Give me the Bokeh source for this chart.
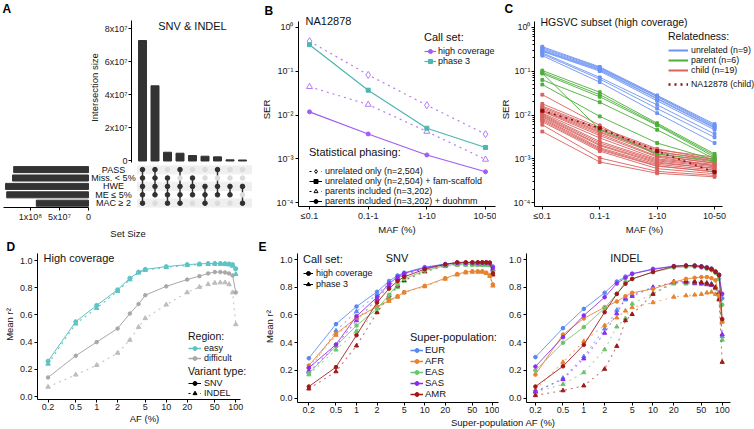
from bokeh.plotting import figure
from bokeh.models import Range1d, FixedTicker, LinearAxis, Legend, LegendItem, Label, Div, Title
from bokeh.layouts import row, column
from bokeh.embed import file_html
from bokeh.resources import INLINE
from bokeh.core.properties import value

FONT = "Liberation Sans"
NAN = float("nan")

# ================= DATA =================
# Panel A (UpSet)
set_names = ["PASS", "Miss. < 5%", "HWE", "ME ≤ 5%", "MAC ≥ 2"]
set_sizes = [1.29e8, 1.31e8, 1.43e8, 1.41e8, 0.90e8]
intersection_sizes = [7.29e7, 4.55e7, 0.53e7, 0.47e7, 0.33e7, 0.29e7, 0.25e7, 0.07e7, 0.06e7]
intersection_sets = [
    ["PASS", "Miss. < 5%", "HWE", "ME ≤ 5%", "MAC ≥ 2"],
    ["PASS", "Miss. < 5%", "HWE", "ME ≤ 5%"],
    ["Miss. < 5%", "HWE", "ME ≤ 5%", "MAC ≥ 2"],
    ["PASS", "HWE", "ME ≤ 5%", "MAC ≥ 2"],
    ["Miss. < 5%", "HWE", "ME ≤ 5%"],
    ["HWE", "ME ≤ 5%", "MAC ≥ 2"],
    ["PASS", "HWE", "ME ≤ 5%"],
    ["HWE", "ME ≤ 5%"],
    ["HWE", "MAC ≥ 2"],
]
inter_ticks = [0, 2e7, 4e7, 6e7, 8e7]
inter_tick_labels = ["0", "2x10⁷", "4x10⁷", "6x10⁷", "8x10⁷"]
size_ticks = [0, 5e7, 1e8]
size_tick_labels = ["0", "5x10⁷", "1x10⁸"]

# Panels B, C
maf_bins = ["≤0.1", "0.1-1", "1-10", "10-50"]
ser_ticks = [1e-4, 1e-3, 1e-2, 1e-1, 1.0]
ser_tick_labels = ["10⁻⁴", "10⁻³", "10⁻²", "10⁻¹", "10⁰"]
B_hc_unrelated = [0.48, 0.082, 0.0167, 0.00366]
B_p3_famscaffold = [0.40, 0.0367, 0.0050, 0.00182]
B_hc_parents = [0.044, 0.0173, 0.0042, 0.00097]
B_hc_duohmm = [0.0118, 0.0037, 0.00123, 0.00051]

C_unrelated = [
    [0.36, 0.125, 0.028, 0.0062], [0.34, 0.12, 0.027, 0.0058], [0.32, 0.115, 0.026, 0.0055],
    [0.30, 0.11, 0.024, 0.0052], [0.29, 0.105, 0.023, 0.0050], [0.28, 0.10, 0.021, 0.0046],
    [0.26, 0.072, 0.017, 0.0037], [0.245, 0.066, 0.014, 0.0031], [0.225, 0.056, 0.011, 0.0023],
]
C_parent = [
    [0.103, 0.033, 0.0065, 0.0013], [0.094, 0.029, 0.0061, 0.0012], [0.088, 0.026, 0.0058, 0.0011],
    [0.063, 0.0195, 0.0046, 0.0010], [0.0495, 0.0093, 0.0023, 0.00095], [0.090, 0.0047, 0.0013, 0.0009],
]
C_child = [
    [0.029, 0.0058, 0.0012, 0.0008], [0.018, 0.0052, 0.0017, 0.00095], [0.016, 0.0048, 0.0016, 0.0011],
    [0.015, 0.0045, 0.0015, 0.0009], [0.014, 0.0042, 0.0014, 0.0010], [0.013, 0.0040, 0.0013, 0.00085],
    [0.0125, 0.0037, 0.00115, 0.0008], [0.012, 0.0034, 0.0011, 0.0007], [0.011, 0.0030, 0.0010, 0.00075],
    [0.0105, 0.0025, 0.00095, 0.0007], [0.010, 0.0023, 0.0009, 0.00066], [0.0095, 0.0021, 0.00085, 0.0006],
    [0.009, 0.0020, 0.0008, 0.00062], [0.0085, 0.0018, 0.00075, 0.00056], [0.008, 0.0017, 0.0007, 0.0005],
    [0.0075, 0.0016, 0.00068, 0.00052], [0.007, 0.0015, 0.0006, 0.00046], [0.006, 0.00105, 0.00052, 0.00042],
    [0.0042, 0.00085, 0.00047, 0.00039],
]
C_na12878 = [0.0125, 0.0050, 0.0015, 0.0005]

# Panels D, E
af_bins = [0.2, 0.5, 1, 2, 3, 4, 5, 10, 20, 30, 40, 50, 60, 70, 80, 90, 100]
af_ticks = [0.2, 0.5, 1, 2, 5, 10, 20, 50, 100]
af_tick_labels = ["0.2", "0.5", "1", "2", "5", "10", "20", "50", "100"]
r2_ticks = [0.0, 0.2, 0.4, 0.6, 0.8, 1.0]
r2_tick_labels = ["0.0", "0.2", "0.4", "0.6", "0.8", "1.0"]

D_easy_snv = [0.26, 0.55, 0.67, 0.785, 0.87, 0.915, 0.935, 0.955, 0.97, 0.975, 0.978, 0.978, 0.978, 0.977, 0.975, 0.97, 0.94]
D_easy_indel = [0.24, 0.535, 0.65, 0.775, 0.86, 0.91, 0.93, 0.95, 0.965, 0.97, 0.973, 0.975, 0.975, 0.972, 0.97, 0.96, 0.90]
D_diff_snv = [0.14, 0.30, 0.40, 0.50, 0.61, 0.68, 0.745, 0.81, 0.86, 0.885, 0.905, 0.915, 0.915, 0.912, 0.905, 0.89, 0.765]
D_diff_indel = [0.07, 0.16, 0.23, 0.32, 0.415, 0.51, 0.575, 0.675, 0.765, 0.805, 0.825, 0.835, 0.838, 0.838, 0.825, 0.765, 0.53]

pops = ["EUR", "AFR", "EAS", "SAS", "AMR"]
snv_hc_EUR = [0.288, 0.534, 0.661, 0.767, 0.845, 0.885, 0.905, 0.945, 0.968, 0.975, 0.978, 0.978, 0.978, 0.978, 0.977, 0.975, 0.95]
snv_hc_AFR = [0.236, 0.464, 0.58, 0.661, 0.705, 0.735, 0.765, 0.81, 0.865, 0.895, 0.91, 0.915, 0.915, 0.915, 0.905, 0.885, 0.82]
snv_hc_EAS = [0.18, 0.375, 0.524, 0.644, 0.745, 0.82, 0.86, 0.92, 0.955, 0.965, 0.965, 0.965, 0.965, 0.965, 0.965, 0.962, 0.93]
snv_hc_SAS = [0.219, 0.387, 0.591, 0.728, 0.825, 0.875, 0.90, 0.94, 0.965, 0.975, 0.975, 0.975, 0.975, 0.975, 0.975, 0.972, 0.94]
snv_hc_AMR = [0.084, 0.224, 0.454, 0.69, 0.79, 0.845, 0.875, 0.93, 0.965, 0.98, 0.98, 0.98, 0.98, 0.98, 0.98, 0.978, 0.90]
snv_p3_EUR = [0.20, 0.486, 0.625, 0.75, 0.83, 0.87, 0.895, 0.935, 0.96, 0.968, 0.97, 0.97, 0.97, 0.97, 0.97, 0.968, 0.93]
snv_p3_AFR = [0.225, 0.455, 0.575, 0.655, 0.70, 0.73, 0.76, 0.805, 0.86, 0.89, 0.905, 0.91, 0.91, 0.91, 0.90, 0.88, 0.81]
snv_p3_EAS = [0.17, 0.349, 0.483, 0.62, 0.725, 0.80, 0.845, 0.91, 0.95, 0.96, 0.96, 0.96, 0.96, 0.96, 0.96, 0.957, 0.92]
snv_p3_SAS = [0.19, 0.38, 0.56, 0.715, 0.81, 0.86, 0.89, 0.935, 0.96, 0.97, 0.97, 0.97, 0.97, 0.97, 0.97, 0.967, 0.93]
snv_p3_AMR = [0.068, 0.192, 0.378, 0.618, 0.74, 0.81, 0.85, 0.915, 0.955, 0.97, 0.97, 0.97, 0.97, 0.97, 0.97, 0.968, 0.89]

indel_hc_EUR = [0.296, 0.505, 0.644, 0.76, 0.841, 0.877, 0.897, 0.933, 0.952, 0.957, 0.957, 0.952, 0.945, 0.935, 0.915, 0.89, 0.72]
indel_hc_AFR = [0.17, 0.459, 0.575, 0.656, 0.697, 0.735, 0.76, 0.788, 0.837, 0.86, 0.868, 0.873, 0.873, 0.865, 0.85, 0.74, 0.553]
indel_hc_EAS = [0.20, 0.40, 0.512, 0.649, 0.752, 0.837, 0.86, 0.909, 0.942, 0.947, 0.947, 0.942, 0.933, 0.923, 0.904, 0.86, 0.673]
indel_hc_SAS = [0.228, 0.44, 0.596, 0.728, 0.827, 0.868, 0.897, 0.928, 0.952, 0.957, 0.955, 0.947, 0.94, 0.933, 0.913, 0.885, 0.752]
indel_hc_AMR = [0.084, 0.23, 0.385, 0.62, 0.752, 0.825, 0.86, 0.91, 0.95, 0.955, 0.955, 0.95, 0.94, 0.93, 0.91, 0.89, 0.57]
indel_p3_EUR = [0.04, 0.145, 0.30, 0.50, 0.635, 0.71, 0.745, 0.80, 0.835, 0.84, 0.84, 0.835, 0.83, 0.825, 0.80, 0.75, 0.445]
indel_p3_AFR = [0.06, 0.26, 0.41, 0.525, 0.58, 0.63, 0.655, 0.69, 0.73, 0.74, 0.745, 0.75, 0.76, 0.765, 0.75, 0.72, 0.55]
indel_p3_EAS = [0.045, 0.10, 0.185, 0.35, 0.515, 0.575, 0.68, 0.755, 0.825, 0.825, 0.825, 0.825, 0.82, 0.815, 0.79, 0.74, 0.42]
indel_p3_SAS = [0.05, 0.135, 0.285, 0.47, 0.61, 0.72, 0.735, 0.80, 0.835, 0.835, 0.83, 0.825, 0.82, 0.815, 0.795, 0.76, 0.46]
indel_p3_AMR = [0.02, 0.055, 0.09, 0.21, 0.375, 0.56, 0.605, 0.75, 0.84, 0.845, 0.84, 0.835, 0.83, 0.82, 0.80, 0.71, 0.26]

# ================= STYLE =================
VIOLET = "#A15CF3"
TEAL_B = "#4DB6B0"
TEAL_D = "#5EC3C4"
GREY_D = "#A8A8A8"
C_COLORS = {"unrelated": "#6D93F3", "parent": "#4DAF3A", "child": "#D9625E", "na": "#8B1010"}
POP_COLORS = {"EUR": "#5588F2", "AFR": "#E8822C", "EAS": "#6CC46C", "SAS": "#8E2BEE", "AMR": "#A01818"}


def make_fig(w, h, bl, br, bt, bb, xr, yr, **kw):
    p = figure(width=w, height=h, x_range=xr, y_range=yr, output_backend="svg",
               toolbar_location=None, min_border_left=bl, min_border_right=br,
               min_border_top=bt, min_border_bottom=bb, **kw)
    try:
        p.frame_align = False
    except Exception:
        pass
    p.outline_line_color = None
    p.background_fill_color = "white"
    p.border_fill_color = "white"
    p.grid.visible = False
    return p


def style_axis(ax, tick_size="9px", label_size="9.5px"):
    ax.axis_line_color = "black"
    ax.axis_line_width = 1
    ax.major_tick_line_color = "black"
    ax.major_tick_in = 0
    ax.major_tick_out = 3
    ax.minor_tick_line_color = None
    ax.major_label_text_font = FONT
    ax.major_label_text_font_size = tick_size
    ax.major_label_text_color = "#1a1a1a"
    ax.major_label_text_line_height = 1.0
    ax.axis_label_text_font = FONT
    ax.axis_label_text_font_size = label_size
    ax.axis_label_text_font_style = "normal"
    ax.axis_label_text_color = "#111111"
    ax.axis_label_text_line_height = 1.0
    ax.major_label_standoff = 1
    ax.axis_label_standoff = 0


def add_text(p, x, y, text, size="11px", align="left"):
    # x, y in screen px relative to the frame's bottom-left corner
    p.add_layout(Label(x=x, y=y, x_units="screen", y_units="screen", text=text,
                       text_font=FONT, text_font_size=size, text_align=align,
                       text_baseline="middle", text_color="#111111"))


def add_letter(p, text, offset, standoff):
    p.add_layout(Title(text=text, align="left", offset=offset, standoff=standoff,
                       vertical_align="bottom", text_font=FONT, text_font_size="12px",
                       text_font_style="bold", text_color="#000000", text_line_height=1.0), "above")


def add_legend(p, items, x, y, title=None, title_size="10.5px", label_size="9px",
               glyph_w=20, item_h=10, spacing=0, standoff=3, title_standoff=3):
    lg = Legend(items=items, location=(x, y))
    if title:
        lg.title = title
    lg.border_line_color = None
    lg.background_fill_alpha = 0
    lg.padding = 0
    lg.margin = 0
    lg.spacing = spacing
    lg.label_text_font = FONT
    lg.label_text_font_size = label_size
    lg.label_text_color = "#111111"
    lg.label_text_line_height = 1.0
    lg.title_text_font = FONT
    lg.title_text_font_size = title_size
    lg.title_text_font_style = "normal"
    lg.title_text_color = "#111111"
    lg.title_text_line_height = 1.0
    lg.title_standoff = title_standoff
    lg.glyph_width = glyph_w
    lg.glyph_height = item_h
    lg.label_height = item_h
    lg.label_standoff = standoff
    p.add_layout(lg)


def dummy(p, color, dash="solid", marker=None, size=5, fill="same", lw=1.2):
    rs = [p.line(x=[NAN, NAN], y=[NAN, NAN], line_color=color, line_dash=dash, line_width=lw)]
    if marker:
        fc = color if fill == "same" else fill
        rs.append(p.scatter(x=[NAN], y=[NAN], marker=marker, size=size, line_color=color, fill_color=fc))
    return rs


# ================= PANEL A =================
n_int = len(intersection_sizes)
cols = list(range(1, n_int + 1))
row_y = {name: len(set_names) - i for i, name in enumerate(set_names)}

# canvas 0..252 x 0..165, frame x 131..252, y 12..162
pAt = make_fig(252, 165, 131, 0, 12, 3, Range1d(0.12, 9.8), Range1d(-0.0908e7, 8.986e7),
               x_axis_location=None)
pAt.vbar(x=cols, top=intersection_sizes, width=0.64, color="#333333")
style_axis(pAt.yaxis[0])
pAt.yaxis.ticker = FixedTicker(ticks=inter_ticks)
pAt.yaxis.major_label_overrides = dict(zip(inter_ticks, inter_tick_labels))
pAt.yaxis.bounds = (-0.0908e7, 8.502e7)
pAt.yaxis.axis_label = "Intersection size"
pAt.yaxis.axis_label_standoff = 2
add_letter(pAt, "A", -129, -6)
add_text(pAt, 61, 137, "SNV & INDEL", size="11px", align="center")

# canvas 0..252 x 165..241, frame x 3..252, y 165..211
pAb = make_fig(252, 76, 3, 0, 0, 30, Range1d(-10.12, 9.8), Range1d(0.489, 5.489),
               x_axis_location=None, y_axis_location=None)
pAb.extra_x_ranges = {"ss": Range1d(1.4655e8, -2.8276e8)}
stripe_rows = [row_y[n] for i, n in enumerate(set_names) if i % 2 == 0]
pAb.hbar(y=stripe_rows, left=0.6, right=9.8, height=1.0, color="#EFEFEF")
pAb.hbar(y=[row_y[n] for n in set_names], left=0, right=set_sizes, height=0.72,
         color="#333333", x_range_name="ss")
pAb.text(x=[-1.32] * len(set_names), y=[row_y[n] for n in set_names], text=set_names,
         text_align="center", text_baseline="middle", text_font=value(FONT),
         text_font_size="9px", text_color="#111111")
mx, my, mc = [], [], []
for c, members in zip(cols, intersection_sets):
    for n in set_names:
        mx.append(c)
        my.append(row_y[n])
        mc.append("#303030" if n in members else "#DCDCDC")
seg_y0 = [min(row_y[n] for n in m) for m in intersection_sets]
seg_y1 = [max(row_y[n] for n in m) for m in intersection_sets]
pAb.segment(x0=cols, y0=seg_y0, x1=cols, y1=seg_y1, line_color="#303030", line_width=1.4)
pAb.scatter(x=mx, y=my, size=4.6, color=mc)
ss_axis = LinearAxis(x_range_name="ss", ticker=FixedTicker(ticks=size_ticks),
                     major_label_overrides=dict(zip(size_ticks, size_tick_labels)),
                     bounds=(0, 1.46e8), axis_label="Set Size")
style_axis(ss_axis)
ss_axis.axis_label_standoff = 3
pAb.add_layout(ss_axis, "below")

# ================= PANEL B =================
xs4 = list(range(len(maf_bins)))
SER_RANGE = (10 ** -4.0843, 10 ** 0.3349)
SER_BOUNDS = (10 ** -4.0843, 10 ** 0.1298)
# canvas 252..496 x 0..237, frame x 298..495, y 12..206
pB = make_fig(244, 237, 46, 1, 12, 31, Range1d(-0.1875, 3.170), Range1d(*SER_RANGE),
              y_axis_type="log")
for ax in pB.axis:
    style_axis(ax)
pB.xaxis.ticker = FixedTicker(ticks=xs4)
pB.xaxis.major_label_overrides = dict(zip(xs4, maf_bins))
pB.yaxis.ticker = FixedTicker(ticks=ser_ticks)
pB.yaxis.major_label_overrides = dict(zip(ser_ticks, ser_tick_labels))
pB.yaxis.bounds = SER_BOUNDS
pB.yaxis.major_label_standoff = 2
pB.yaxis.axis_label_standoff = 2
pB.xaxis.axis_label = "MAF (%)"
pB.yaxis.axis_label = "SER"

pB.line(xs4, B_hc_unrelated, line_color=VIOLET, line_dash="dotted", line_width=1.2, line_alpha=0.8)
pB.scatter(xs4, B_hc_unrelated, marker="diamond", size=7, line_color=VIOLET, fill_color="white", line_alpha=0.8)
pB.line(xs4, B_hc_parents, line_color=VIOLET, line_dash="dotted", line_width=1.2, line_alpha=0.8)
pB.scatter(xs4, B_hc_parents, marker="triangle", size=6, line_color=VIOLET, fill_color="white", line_alpha=0.8)
pB.line(xs4, B_p3_famscaffold, line_color=TEAL_B, line_width=1.2)
pB.scatter(xs4, B_p3_famscaffold, marker="square", size=4, color=TEAL_B)
pB.line(xs4, B_hc_duohmm, line_color=VIOLET, line_width=1.2)
pB.scatter(xs4, B_hc_duohmm, marker="circle", size=4, color=VIOLET)

add_legend(pB, [LegendItem(label="high coverage", renderers=dummy(pB, VIOLET, marker="circle")),
                LegendItem(label="phase 3", renderers=dummy(pB, TEAL_B, marker="square"))],
           126, 140.5, title="Call set:", title_size="11px", glyph_w=12, standoff=2, title_standoff=3)
add_legend(pB, [LegendItem(label="unrelated only (n=2,504)",
                           renderers=dummy(pB, "black", "dotted", "diamond", fill="white", lw=1)),
                LegendItem(label="unrelated only (n=2,504) + fam-scaffold",
                           renderers=dummy(pB, "black", "solid", "square", lw=1)),
                LegendItem(label="parents included (n=3,202)",
                           renderers=dummy(pB, "black", "dotted", "triangle", fill="white", lw=1)),
                LegendItem(label="parents included (n=3,202) + duohmm",
                           renderers=dummy(pB, "black", "solid", "circle", lw=1))],
           11, 0.5, title="Statistical phasing:", title_size="11px", glyph_w=13, standoff=3,
           title_standoff=8)
add_letter(pB, "B", -34, -11)
add_text(pB, 7, 185.5, "NA12878", size="11px")

# ================= PANEL C =================
# canvas 496..754 x 0..237, frame x 527..754 (axis line to 720)
pC = make_fig(258, 237, 31, 0, 12, 31, Range1d(-0.136, 3.695), Range1d(*SER_RANGE),
              y_axis_type="log")
for ax in pC.axis:
    style_axis(ax)
pC.xaxis.ticker = FixedTicker(ticks=xs4)
pC.xaxis.major_label_overrides = dict(zip(xs4, maf_bins))
pC.xaxis.bounds = (-0.136, 3.136)
minor_log = [k * 10.0 ** e for e in range(-4, 0) for k in range(2, 10)]
pC.yaxis.ticker = FixedTicker(ticks=ser_ticks, minor_ticks=minor_log)
pC.yaxis.major_label_overrides = dict(zip(ser_ticks, ser_tick_labels))
pC.yaxis.bounds = SER_BOUNDS
pC.yaxis.minor_tick_line_color = "black"
pC.yaxis.minor_tick_in = 0
pC.yaxis.minor_tick_out = 2
pC.xaxis.axis_label = "MAF (%)"
pC.yaxis.axis_label = "SER"

for group, key in [(C_child, "child"), (C_parent, "parent"), (C_unrelated, "unrelated")]:
    for vals in group:
        pC.line(xs4, vals, line_color=C_COLORS[key], line_width=1, line_alpha=0.9)
        pC.scatter(xs4, vals, marker="square", size=2.8, color=C_COLORS[key])
pC.line(xs4, C_na12878, line_color=C_COLORS["na"], line_dash="dotted", line_width=1.6)
pC.scatter(xs4, C_na12878, marker="square", size=3, color=C_COLORS["na"])

add_legend(pC, [LegendItem(label="unrelated (n=9)", renderers=dummy(pC, C_COLORS["unrelated"], lw=2)),
                LegendItem(label="parent (n=6)", renderers=dummy(pC, C_COLORS["parent"], lw=2)),
                LegendItem(label="child (n=19)", renderers=dummy(pC, C_COLORS["child"], lw=2))],
           134, 131, title="Relatedness:", title_size="10.5px", label_size="8.8px", glyph_w=20,
           standoff=3, title_standoff=3)
add_legend(pC, [LegendItem(label="NA12878 (child)", renderers=dummy(pC, C_COLORS["na"], "dotted", lw=2.4))],
           134, 117, label_size="8.8px", glyph_w=20, standoff=3)
add_letter(pC, "C", -30, -7)
add_text(pC, 6, 185, "HGSVC subset (high coverage)", size="10.5px")


# ================= PANEL D / E helpers =================
def style_af(p, ylabel=None):
    for ax in p.axis:
        style_axis(ax)
    p.xaxis.ticker = FixedTicker(ticks=af_ticks)
    p.xaxis.major_label_overrides = dict(zip(af_ticks, af_tick_labels))
    p.yaxis.ticker = FixedTicker(ticks=r2_ticks)
    p.yaxis.major_label_overrides = dict(zip(r2_ticks, r2_tick_labels))
    p.yaxis.major_label_standoff = 2
    if ylabel:
        p.yaxis.axis_label = ylabel
        p.yaxis.axis_label_standoff = 2


# ================= PANEL D =================
# canvas 0..252 x 241..428, frame x 33..251 (axis line to 240), y 249..399
pD = make_fig(252, 187, 33, 1, 8, 29, Range1d(0.141, 168.2), Range1d(-0.022, 1.081),
              x_axis_type="log")
style_af(pD, "Mean r²")
pD.yaxis.bounds = (-0.022, 1.0515)
pD.xaxis.bounds = (0.141, 117.7)
pD.xaxis.axis_label = "AF (%)"
pD.line(af_bins, D_diff_indel, line_color="#C4C4C4", line_dash="dotted", line_width=1.1)
pD.scatter(af_bins, D_diff_indel, marker="triangle", size=4.5, color="#BDBDBD")
pD.line(af_bins, D_diff_snv, line_color=GREY_D, line_width=1)
pD.scatter(af_bins, D_diff_snv, marker="circle", size=3.5, color=GREY_D)
pD.line(af_bins, D_easy_indel, line_color=TEAL_D, line_dash="dotted", line_width=1.1)
pD.scatter(af_bins, D_easy_indel, marker="triangle", size=4.5, color=TEAL_D)
pD.line(af_bins, D_easy_snv, line_color=TEAL_D, line_width=1)
pD.scatter(af_bins, D_easy_snv, marker="circle", size=4, color=TEAL_D)

add_legend(pD, [LegendItem(label="easy", renderers=dummy(pD, TEAL_D, marker="circle", lw=1.5)),
                LegendItem(label="difficult", renderers=dummy(pD, GREY_D, marker="circle", lw=1.5))],
           151, 36, title="Region:", title_size="10.5px", glyph_w=13, spacing=-2, standoff=3,
           title_standoff=1)
add_legend(pD, [LegendItem(label="SNV", renderers=dummy(pD, "black", marker="circle", lw=1)),
                LegendItem(label="INDEL", renderers=dummy(pD, "black", "dotted", "triangle", lw=1))],
           151, 1, title="Variant type:", title_size="10.5px", glyph_w=13, spacing=-2, standoff=3,
           title_standoff=1)
add_letter(pD, "D", -31, -8)
add_text(pD, 6, 142, "High coverage", size="11px")

# ================= PANEL E =================
snv_hc = dict(zip(pops, [snv_hc_EUR, snv_hc_AFR, snv_hc_EAS, snv_hc_SAS, snv_hc_AMR]))
snv_p3 = dict(zip(pops, [snv_p3_EUR, snv_p3_AFR, snv_p3_EAS, snv_p3_SAS, snv_p3_AMR]))
indel_hc = dict(zip(pops, [indel_hc_EUR, indel_hc_AFR, indel_hc_EAS, indel_hc_SAS, indel_hc_AMR]))
indel_p3 = dict(zip(pops, [indel_p3_EUR, indel_p3_AFR, indel_p3_EAS, indel_p3_SAS, indel_p3_AMR]))


def draw_pops(p, hc, p3):
    for pop in pops:
        col = POP_COLORS[pop]
        p.line(af_bins, p3[pop], line_color=col, line_dash="dotted", line_width=1.1, line_alpha=0.6)
        p.scatter(af_bins, p3[pop], marker="triangle", size=4.2, color=col)
    for pop in pops:
        col = POP_COLORS[pop]
        p.line(af_bins, hc[pop], line_color=col, line_width=1, line_alpha=0.85)
        p.scatter(af_bins, hc[pop], marker="circle", size=3.6, color=col)


E_YRANGE = (-0.031, 1.0649)
E_BOUNDS = (-0.031, 1.0433)
# canvas 252..499 x 237..418, frame x 297..498, y 250..402
pE1 = make_fig(247, 181, 45, 1, 13, 16, Range1d(0.1364, 120.8), Range1d(*E_YRANGE),
               x_axis_type="log")
style_af(pE1, "Mean r²")
pE1.yaxis.bounds = E_BOUNDS
draw_pops(pE1, snv_hc, snv_p3)
add_legend(pE1, [LegendItem(label="high coverage", renderers=dummy(pE1, "black", marker="circle", lw=1)),
                 LegendItem(label="phase 3", renderers=dummy(pE1, "black", "solid", "triangle", lw=1))],
           6, 112.7, title="Call set:", title_size="11px", glyph_w=10, spacing=1, standoff=3,
           title_standoff=3)
add_legend(pE1, [LegendItem(label=pop, renderers=dummy(pE1, POP_COLORS[pop], marker="circle", lw=1.5))
                 for pop in pops],
           113, 3, title="Super-population:", title_size="11px", label_size="9.5px",
           glyph_w=13, spacing=0, standoff=2, title_standoff=1)
add_letter(pE1, "E", -39, -7)
add_text(pE1, 99.5, 145, "SNV", size="11px", align="center")

# canvas 499..754 x 237..418, frame x 526..730
pE2 = make_fig(255, 181, 27, 24, 13, 16, Range1d(0.1486, 131.8), Range1d(*E_YRANGE),
               x_axis_type="log")
style_af(pE2)
pE2.yaxis.bounds = E_BOUNDS
draw_pops(pE2, indel_hc, indel_p3)
add_text(pE2, 100, 145, "INDEL", size="11px", align="center")

e_xlabel = Div(text="Super-population AF (%)", width=502, height=10, margin=0,
               styles={"font-family": FONT, "font-size": "9.5px", "text-align": "center",
                       "line-height": "10px", "color": "#111111"})

# ================= LAYOUT =================
left = column(pAt, pAb, pD, spacing=0)
right = column(row(pB, pC, spacing=0), row(pE1, pE2, spacing=0), e_xlabel, spacing=0)
layout = row(left, right, spacing=0)

open("out.html", "w").write(file_html(layout, INLINE))
